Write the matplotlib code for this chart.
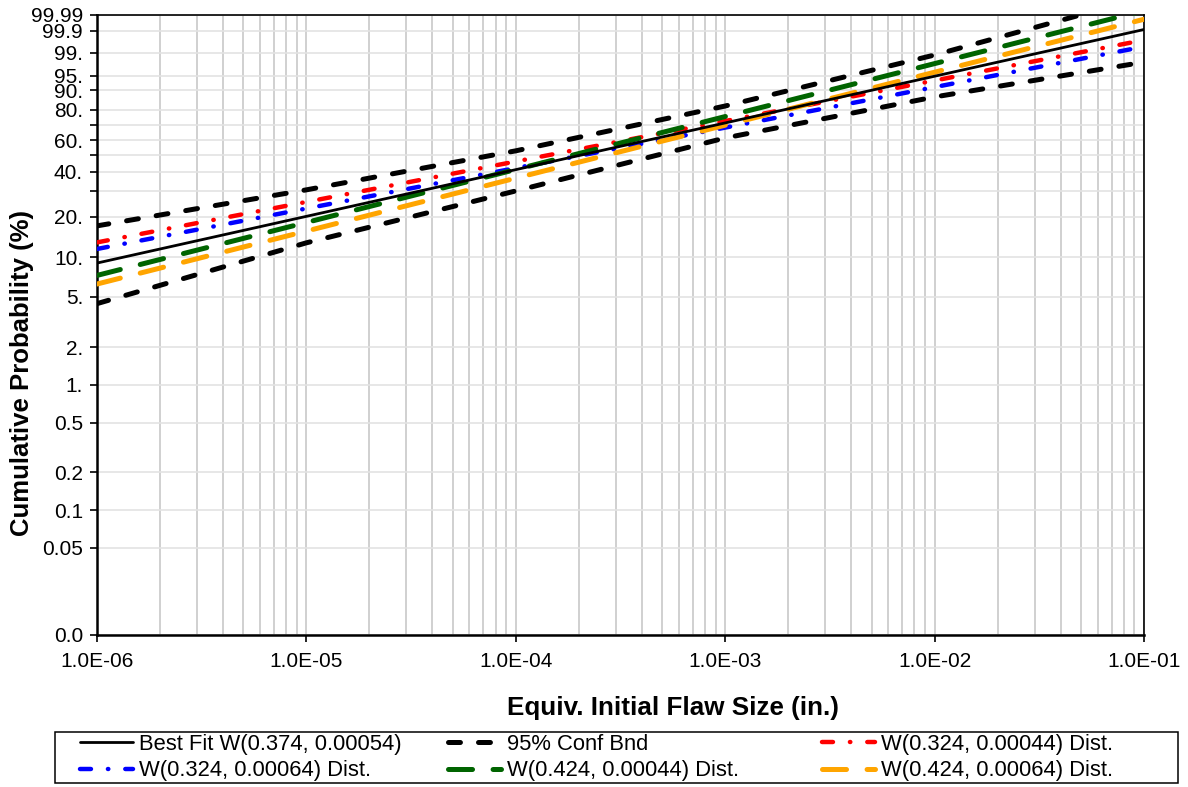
import numpy as np
import matplotlib
matplotlib.use("Agg")
import matplotlib.pyplot as plt
from matplotlib.patches import Rectangle
from matplotlib.ticker import FixedLocator, FixedFormatter, LogLocator, FuncFormatter, NullFormatter

plt.rcParams['font.family'] = ['Liberation Sans', 'DejaVu Sans']
plt.rcParams['lines.scale_dashes'] = False

# Weibull distributions (shape, scale) drawn on probability paper
shapes = [0.374, 0.324, 0.324, 0.424, 0.424]
scales = [0.00054, 0.00044, 0.00064, 0.00044, 0.00064]
x_ends = [1e-6, 1e-1]

# 95% confidence bounds on the best fit (cumulative %)
band_x = [1e-6, 1e-5, 1e-4, 1e-3, 1e-2, 1e-1]
band_upper = [17.2, 30.7, 52.9, 82.1, 98.78, 99.9997]
band_lower = [4.4, 12.9, 30.2, 61.5, 86.9, 97.9]

# probability axis ticks
y_ticks = [0.01, 0.05, 0.1, 0.2, 0.5, 1, 2, 5, 10, 20, 30, 40, 50, 60, 70, 80, 90, 95, 99, 99.9, 99.99]
y_labels = ["0.0", "0.05", "0.1", "0.2", "0.5", "1.", "2.", "5.", "10.", "20.", "", "40.", "",
            "60.", "", "80.", "90.", "95.", "99.", "99.9", "99.99"]


def weib_fwd(p):
    with np.errstate(all='ignore'):
        return np.log(-np.log(1.0 - np.asarray(p) / 100.0))


def weib_inv(w):
    with np.errstate(all='ignore'):
        return 100.0 * (1.0 - np.exp(-np.exp(np.asarray(w))))


def weib_cdf(x, beta, eta):
    x = np.asarray(x)
    return 100.0 * (1.0 - np.exp(-(x / eta) ** beta))


fig = plt.figure(figsize=(11.88, 7.87), dpi=100)
ax = fig.add_axes([97 / 1188, 152 / 787, 1047 / 1188, 620 / 787])
ax.set_xscale('log')
ax.set_yscale('function', functions=(weib_fwd, weib_inv))
ax.set_xlim(1e-6, 1e-1)
ax.set_ylim(0.01, 99.99)

# styles: best fit, red, blue, green, orange
colors = ['black', '#ff0000', '#0000ff', '#006400', '#ffa500']
dashes = [None, (7.9, 12.2, 0.3, 12.2), (7.9, 12.2, 0.3, 12.2), (17.3, 14.8), (17.3, 14.8)]
widths = [2.0, 3.2, 3.2, 3.6, 3.6]
zords = [6, 3, 3, 4, 4]

lines = []
for b, e, c, d, w, z in zip(shapes, scales, colors, dashes, widths, zords):
    if d is None:
        lab = f"Best Fit W({b}, {e})"
        ln, = ax.plot(x_ends, weib_cdf(x_ends, b, e), color=c, lw=w, zorder=z,
                      solid_capstyle='round', label=lab)
    else:
        lab = f"W({b}, {e}) Dist."
        ln, = ax.plot(x_ends, weib_cdf(x_ends, b, e), color=c, lw=w, zorder=z,
                      dashes=d, dash_capstyle='round', label=lab)
    lines.append(ln)

conf, = ax.plot(band_x, band_upper, color='black', lw=3.6, dashes=(8.6, 13),
                dash_capstyle='round', zorder=5, label="95% Conf Bnd")
ax.plot(band_x, band_lower, color='black', lw=3.6, dashes=(8.6, 13),
        dash_capstyle='round', zorder=5)

# axes, ticks and grid
ax.yaxis.set_major_locator(FixedLocator(y_ticks))
ax.yaxis.set_major_formatter(FixedFormatter(y_labels))
ax.yaxis.set_minor_locator(FixedLocator([]))
ax.xaxis.set_major_locator(LogLocator(base=10, numticks=10))
ax.xaxis.set_major_formatter(FuncFormatter(lambda v, pos: f"{v:.1E}"))
ax.xaxis.set_minor_locator(LogLocator(base=10, subs=np.arange(2, 10), numticks=20))
ax.xaxis.set_minor_formatter(NullFormatter())

ax.tick_params(axis='both', which='major', labelsize=15, direction='out', length=5, width=1.2, pad=5)
ax.tick_params(axis='x', which='major', pad=7)
ax.tick_params(axis='x', which='minor', length=0)
ax.grid(True, axis='y', which='major', color='#e3e3e3', lw=1.2, zorder=0)
ax.grid(True, axis='x', which='both', color='#c8c8c8', lw=1.2, zorder=0)
ax.set_axisbelow(True)

for s in ['left', 'bottom']:
    ax.spines[s].set_linewidth(1.8)
for s in ['top', 'right']:
    ax.spines[s].set_linewidth(1.2)

ax.set_xlabel("Equiv. Initial Flaw Size (in.)", fontsize=18.7, fontweight='bold', va='center')
ax.xaxis.set_label_coords(0.55, -0.117)
ax.set_ylabel("Cumulative Probability (%)", fontsize=18.5, fontweight='bold', va='center')
ax.yaxis.set_label_coords(-0.0716, 0.423)

# legend: three equal columns inside one box under the plot
fig.add_artist(Rectangle((55 / 1188, 4 / 787), 1123 / 1188, 51 / 787, transform=fig.transFigure,
                         fill=False, edgecolor='black', lw=1.1))
columns = [(80, [lines[0], lines[2]]), (448, [conf, lines[3]]), (822, [lines[1], lines[4]])]
for x0, hs in columns:
    fig.legend(handles=hs, labels=[h.get_label() for h in hs], loc='center left',
               bbox_to_anchor=(x0 / 1188, 29.5 / 787), borderaxespad=0, borderpad=0,
               frameon=False, fontsize=15.8, handlelength=2.4, labelspacing=0.27,
               handletextpad=0.3)

fig.savefig("out.png", dpi=100, facecolor='white')
